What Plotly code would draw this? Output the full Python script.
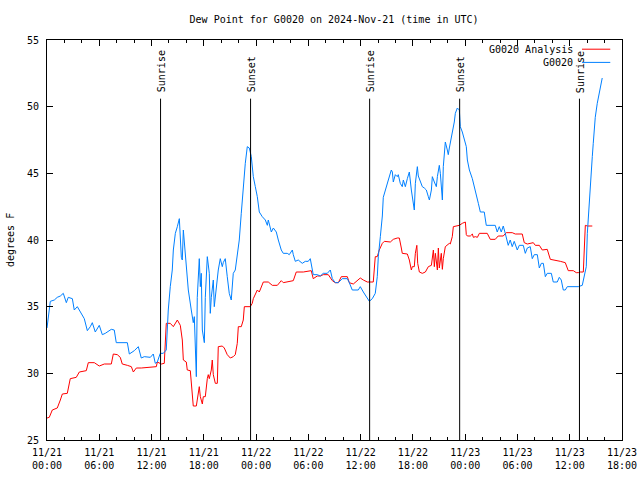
import pandas as pd
import plotly.graph_objects as go

TITLE = "Dew Point for G0020 on 2024-Nov-21 (time in UTC)"
START = "2024-11-21 00:00"

# hours since 2024-11-21 00:00 UTC, dew point (deg F)
station_hours = [0.0, 0.15, 0.38, 0.84, 1.18, 1.53, 1.87, 2.22, 2.44, 2.91, 3.13, 3.48, 3.82, 4.28, 4.63,
    4.97, 5.20, 5.54, 6.00, 6.35, 6.69, 7.38, 7.72, 7.95, 9.22, 9.45, 10.02, 10.48, 10.82, 11.17,
    11.86, 12.20, 12.43, 12.66, 13.00, 13.35, 13.69, 13.81, 13.92, 14.15, 14.38, 14.50, 14.73, 14.96,
    15.19, 15.42, 15.53, 15.65, 15.76, 15.99, 16.22, 16.56, 16.79, 16.91, 17.14, 17.25, 17.48, 17.60,
    17.71, 17.83, 18.06, 18.17, 18.40, 18.63, 18.74, 18.86, 19.09, 19.20, 19.43, 19.66, 19.89, 20.12,
    20.23, 20.46, 20.69, 20.92, 21.15, 21.38, 21.61, 21.84, 22.07, 22.30, 22.53, 22.76, 22.99, 23.22,
    23.45, 23.68, 23.91, 24.14, 24.37, 24.71, 25.06, 25.29, 25.40, 25.75, 25.98, 26.32, 26.55, 26.89,
    27.12, 27.58, 27.81, 28.16, 28.27, 28.50, 28.84, 29.30, 29.65, 29.99, 30.22, 30.45, 30.56, 31.02,
    31.37, 31.71, 32.17, 32.52, 32.75, 33.09, 33.44, 33.89, 34.47, 34.70, 35.04, 35.73, 35.96, 36.31,
    36.77, 37.00, 37.34, 37.68, 37.91, 38.03, 38.26, 38.49, 38.60, 38.95, 39.18, 39.52, 39.64, 39.75,
    39.98, 40.21, 40.32, 40.55, 40.78, 40.90, 41.13, 41.36, 41.59, 41.82, 42.05, 42.16, 42.28, 42.51,
    42.62, 42.85, 43.08, 43.31, 43.54, 43.77, 43.89, 44.12, 44.23, 44.46, 44.69, 44.81, 45.03, 45.15,
    45.38, 45.49, 45.61, 45.72, 45.95, 46.06, 46.18, 46.41, 46.64, 46.75, 46.87, 47.10, 47.33, 47.44,
    47.67, 47.90, 48.13, 48.25, 48.48, 48.82, 49.05, 49.28, 49.51, 49.74, 50.19, 50.42, 51.45, 51.68,
    51.91, 52.14, 52.37, 52.60, 52.83, 52.94, 53.17, 53.40, 53.63, 53.98, 54.21, 54.67, 54.90, 55.13,
    55.47, 55.70, 55.93, 56.28, 56.51, 56.74, 56.97, 57.20, 57.42, 57.89, 58.11, 58.57, 58.80, 59.03,
    59.26, 59.49, 59.72, 60.98, 61.44, 61.67, 61.90, 62.02, 62.13, 62.24, 62.36, 62.59, 62.70, 62.93,
    63.16, 63.27, 63.50, 63.73]
station_dewpt = [33.4, 34.2, 35.4, 35.5, 35.7, 35.8, 36.0, 35.3, 35.7, 35.6, 34.75, 35.0, 34.6, 34.1, 33.2,
    33.5, 33.8, 33.1, 33.6, 32.9, 33.0, 33.3, 33.25, 32.3, 32.3, 31.45, 31.7, 32.0, 31.15, 31.25,
    31.2, 31.45, 30.75, 30.85, 31.5, 31.5, 31.75, 33.25, 34.75, 36.5, 37.75, 39.25, 40.5, 41.0,
    41.6, 38.7, 38.5, 40.75, 39.75, 37.75, 36.25, 34.75, 33.8, 34.25, 29.75, 35.7, 38.6, 36.5,
    37.5, 33.25, 32.3, 35.7, 38.75, 37.5, 34.5, 35.7, 37.0, 35.0, 36.5, 37.75, 38.6, 38.0,
    38.3, 38.6, 37.25, 36.0, 35.5, 37.5, 37.75, 38.75, 40.0, 42.0, 44.0, 45.75, 47.0, 46.9,
    46.25, 44.75, 44.0, 43.25, 42.1, 41.75, 41.5, 41.1, 41.5, 40.6, 40.9, 40.6, 40.0, 39.25,
    39.0, 39.0, 38.9, 39.25, 38.9, 38.4, 38.5, 38.25, 38.4, 38.4, 38.6, 37.75, 37.4, 37.4,
    37.3, 37.5, 37.5, 37.75, 37.1, 36.8, 36.8, 37.1, 37.1, 36.8, 36.25, 36.25, 36.5, 36.1,
    35.6, 35.4, 35.6, 36.0, 37.25, 38.75, 40.25, 41.8, 43.2, 44.1, 44.5, 45.25, 45.1, 44.35,
    44.9, 44.75, 44.9, 44.25, 44.0, 44.5, 44.0, 44.6, 45.1, 43.75, 42.9, 42.25, 44.25, 45.5,
    44.8, 44.35, 44.0, 43.9, 43.75, 43.25, 43.0, 43.75, 44.75, 44.35, 44.0, 44.75, 45.6, 45.0,
    43.0, 45.5, 46.6, 47.35, 46.75, 46.4, 46.9, 47.7, 48.25, 48.85, 49.5, 49.9, 49.75, 48.5,
    48.1, 47.5, 47.0, 46.0, 45.25, 44.6, 43.9, 43.25, 42.75, 42.1, 42.1, 41.1, 41.1, 40.6,
    41.0, 40.6, 41.05, 40.5, 40.0, 39.6, 40.0, 39.5, 39.9, 39.25, 39.6, 39.6, 39.0, 39.4,
    39.5, 38.6, 38.9, 38.9, 37.9, 38.25, 38.25, 37.25, 37.5, 37.5, 36.85, 36.85, 37.2, 37.0,
    36.25, 36.25, 36.5, 36.5, 36.6, 37.2, 38.0, 40.5, 41.75, 43.0, 43.75, 46.25, 47.25, 49.2,
    50.25, 50.6, 51.25, 52.15]

analysis_hours = [0.0, 0.26, 0.61, 1.18, 1.53, 1.76, 2.33, 2.67, 3.36, 3.71, 4.51, 4.74, 5.43, 6.00, 6.58,
    7.38, 7.61, 8.07, 8.41, 8.64, 9.22, 9.68, 9.91, 10.25, 10.82, 11.97, 12.55, 12.66, 13.12, 13.46,
    13.58, 13.69, 14.15, 14.50, 14.96, 15.30, 15.53, 15.65, 15.99, 16.10, 16.45, 16.68, 16.79, 17.14,
    17.25, 17.48, 17.60, 17.83, 17.94, 18.17, 18.40, 18.51, 18.63, 18.86, 18.97, 19.09, 19.32, 19.55,
    19.66, 20.12, 20.35, 20.69, 21.04, 21.38, 21.61, 21.84, 21.96, 22.30, 22.53, 22.65, 23.33, 23.56,
    23.68, 24.02, 24.14, 24.37, 24.60, 24.83, 25.40, 25.63, 25.86, 26.44, 26.89, 27.12, 28.27, 28.61,
    29.42, 30.33, 30.56, 31.02, 31.37, 31.71, 32.29, 32.75, 33.09, 33.44, 33.78, 34.47, 34.70, 35.16,
    35.62, 35.96, 36.31, 36.77, 37.45, 37.68, 37.91, 38.14, 38.49, 38.72, 39.41, 39.75, 40.21, 40.44,
    40.67, 40.78, 41.36, 41.59, 41.82, 41.93, 42.16, 42.28, 42.45, 42.55, 42.74, 43.08, 43.43, 43.77,
    44.12, 44.35, 44.46, 44.58, 44.81, 44.92, 45.03, 45.26, 45.38, 45.49, 45.72, 45.95, 46.18, 46.29,
    46.52, 46.64, 47.33, 47.67, 47.90, 48.02, 48.13, 48.25, 48.59, 48.82, 48.94, 49.17, 49.40, 49.63,
    50.53, 50.88, 51.45, 51.79, 52.37, 52.71, 53.40, 53.75, 54.55, 54.78, 55.13, 55.59, 55.82, 56.05,
    56.51, 56.85, 57.42, 57.77, 58.34, 58.92, 59.49, 59.83, 60.41, 60.75, 60.98, 61.21, 61.56, 61.67,
    61.79, 62.02, 62.59]
analysis_dewpt = [26.65, 26.7, 27.25, 27.4, 28.0, 28.45, 28.5, 29.6, 29.7, 30.1, 30.2, 30.8, 30.8, 30.55, 30.7,
    30.7, 31.45, 31.4, 31.2, 30.7, 30.6, 30.5, 30.1, 30.4, 30.4, 30.45, 30.5, 30.85, 30.7, 30.75,
    32.0, 33.75, 33.75, 33.5, 34.0, 33.6, 32.5, 31.0, 30.85, 30.25, 30.2, 28.75, 27.55, 27.55,
    28.1, 29.0, 28.25, 27.7, 28.25, 28.25, 29.6, 29.9, 29.6, 30.25, 31.0, 29.9, 29.25, 29.25,
    32.0, 32.05, 31.9, 31.4, 31.15, 31.25, 31.4, 32.25, 33.5, 33.5, 34.0, 35.0, 35.0, 35.25,
    35.6, 36.0, 36.25, 36.1, 36.5, 36.85, 36.85, 36.75, 36.6, 36.6, 36.95, 36.8, 36.95, 37.6,
    37.6, 37.7, 37.1, 37.3, 37.3, 37.4, 37.4, 36.95, 36.8, 36.8, 37.25, 37.25, 36.8, 36.7,
    37.0, 37.15, 37.0, 36.85, 36.85, 38.75, 38.75, 39.25, 39.75, 39.9, 39.85, 40.05, 40.15, 40.15,
    39.4, 39.0, 38.95, 38.5, 37.75, 38.0, 38.0, 39.0, 39.6, 38.25, 37.6, 37.5, 37.6, 38.0,
    38.1, 39.25, 38.0, 39.0, 37.75, 39.4, 37.9, 39.0, 37.8, 38.6, 39.5, 39.6, 39.75, 39.7,
    40.25, 41.0, 41.1, 41.25, 41.3, 41.35, 40.4, 40.3, 40.3, 40.45, 40.2, 40.25, 40.2, 40.5,
    40.5, 40.05, 40.05, 40.3, 40.3, 40.55, 40.55, 40.45, 40.45, 39.8, 39.7, 39.75, 39.8, 39.6,
    39.6, 39.25, 39.3, 38.55, 38.5, 38.4, 38.3, 37.7, 37.7, 37.55, 37.55, 37.6, 37.6, 39.25,
    41.1, 41.05, 41.05]

event_labels = ["Sunrise", "Sunset", "Sunrise", "Sunset", "Sunrise"]
event_times = ["2024-11-21 13:02", "2024-11-21 23:22", "2024-11-22 13:02",
               "2024-11-22 23:22", "2024-11-23 13:07"]

series_names = ["G0020 Analysis", "G0020"]
series_colors = ["#ff0000", "#0080ff"]

FONT = "DejaVu Sans Mono"
base = pd.Timestamp(START)
t_station = base + pd.to_timedelta(station_hours, unit="h")
t_analysis = base + pd.to_timedelta(analysis_hours, unit="h")

fig = go.Figure()
fig.add_trace(go.Scatter(x=t_analysis, y=analysis_dewpt, mode="lines", name=series_names[0],
                         line=dict(color=series_colors[0], width=1), showlegend=False))
fig.add_trace(go.Scatter(x=t_station, y=station_dewpt, mode="lines", name=series_names[1],
                         line=dict(color=series_colors[1], width=1), showlegend=False))

for lab, t in zip(event_labels, event_times):
    fig.add_shape(type="line", x0=t, x1=t, y0=25, y1=50.6, xref="x", yref="y",
                  line=dict(color="black", width=1))
    fig.add_annotation(x=t, y=50.9, xref="x", yref="y", text=lab, textangle=-90,
                       showarrow=False, xanchor="center", yanchor="bottom", xshift=1,
                       font=dict(family=FONT, size=10, color="black"))

# legend (gnuplot style: text then sample line)
leg_y = [0.977, 0.944]
for name, col, ly in zip(series_names, series_colors, leg_y):
    fig.add_annotation(x=0.919, y=ly, xref="paper", yref="paper", text=name, showarrow=False,
                       xanchor="right", yanchor="middle", font=dict(family=FONT, size=10, color="black"))
    fig.add_shape(type="line", x0=0.9304, x1=0.9796, y0=ly, y1=ly, xref="paper", yref="paper",
                  line=dict(color=col, width=1))

fig.add_annotation(x=-37 / 575, y=0.5, xref="paper", yref="paper", text="degrees F", textangle=-90,
                   showarrow=False, xanchor="center", yanchor="middle",
                   font=dict(family=FONT, size=10, color="black"))

fig.update_layout(
    width=640, height=480,
    margin=dict(l=47, r=18, t=40, b=40, autoexpand=False),
    plot_bgcolor="white", paper_bgcolor="white",
    title=dict(text=TITLE, x=0.522, xanchor="center", y=0.96, yanchor="middle",
               font=dict(family=FONT, size=10, color="black")),
    font=dict(family=FONT, size=10, color="black"),
    hovermode=False,
)
fig.update_xaxes(
    range=["2024-11-21 00:00", "2024-11-23 18:00"],
    tick0="2024-11-21 00:00", dtick=6 * 3600 * 1000, tickformat="%m/%d<br>%H:%M",
    ticks="inside", ticklen=6, tickcolor="black", tickwidth=1,
    minor=dict(dtick=2 * 3600 * 1000, ticks="inside", ticklen=3, tickcolor="black", tickwidth=1, showgrid=False),
    showline=True, linecolor="black", linewidth=1, mirror="ticks",
    showgrid=False, zeroline=False, automargin=False, ticklabelstandoff=3,
    ticklabeloverflow="allow",
    tickfont=dict(family=FONT, size=10, color="black"),
)
fig.update_yaxes(
    range=[25, 55], dtick=5, tick0=25,
    ticks="inside", ticklen=6, tickcolor="black", tickwidth=1,
    showline=True, linecolor="black", linewidth=1, mirror="ticks",
    showgrid=False, zeroline=False, automargin=False, ticklabelstandoff=5,
    tickfont=dict(family=FONT, size=10, color="black"),
)

fig.write_html("out.html", config={"displayModeBar": False},
               post_script="document.body.style.margin='0';document.body.style.overflow='hidden';")
